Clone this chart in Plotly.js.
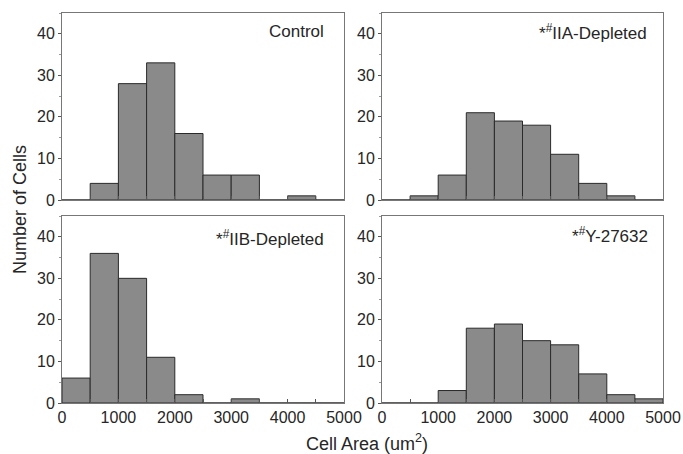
<!DOCTYPE html>
<html>
<head>
<meta charset="utf-8">
<script src="https://cdn.plot.ly/plotly-3.0.1.min.js"></script>
<style>html,body{margin:0;padding:0;background:#fff;}#chart{width:683px;height:454px;}</style>
</head>
<body>
<div id="chart"></div>
<script>
// Bin centres (cell area, um^2), bin width 500
const binCenters = [250, 750, 1250, 1750, 2250, 2750, 3250, 3750, 4250, 4750];
const binWidth = 500;

const controlCounts = [0, 4, 28, 33, 16, 6, 6, 0, 1, 0];
const iiaCounts     = [0, 1, 6, 21, 19, 18, 11, 4, 1, 0];
const iibCounts     = [6, 36, 30, 11, 2, 0, 1, 0, 0, 0];
const y27632Counts  = [0, 0, 3, 18, 19, 15, 14, 7, 2, 1];

const panelLabels = ["Control", "*<sup>#</sup>IIA-Depleted", "*<sup>#</sup>IIB-Depleted", "*<sup>#</sup>Y-27632"];
const xTickVals = [0, 1000, 2000, 3000, 4000, 5000];
const yTickVals = [0, 10, 20, 30, 40];

const series = [controlCounts, iiaCounts, iibCounts, y27632Counts];
const axisIds = [["x", "y"], ["x2", "y2"], ["x3", "y3"], ["x4", "y4"]];

const traces = series.map((vals, i) => ({
  type: "bar",
  x: binCenters,
  y: vals,
  width: binWidth,
  xaxis: axisIds[i][0],
  yaxis: axisIds[i][1],
  marker: {color: "#8a8a8a", line: {color: "#2a2a2a", width: 1}},
  showlegend: false,
  hoverinfo: "x+y"
}));

const font = {family: "Liberation Sans, Arial, sans-serif", size: 16, color: "#262626"};

function xax(domain, anchor, showLabels) {
  return {
    domain: domain, anchor: anchor, range: [0, 5000],
    tickvals: xTickVals, showticklabels: showLabels,
    ticks: "inside", ticklen: 4, tickcolor: "#555", tickwidth: 1,
    minor: {dtick: 500, ticks: "inside", ticklen: 4, tickcolor: "#555", tickwidth: 1},
    showline: true, mirror: true, linecolor: "#777", linewidth: 1,
    showgrid: false, zeroline: false, tickfont: font, fixedrange: true
  };
}
function yax(domain, anchor) {
  return {
    domain: domain, anchor: anchor, range: [0, 45],
    tickvals: yTickVals,
    ticks: "outside", ticklen: 3, tickcolor: "#555", tickwidth: 1,
    minor: {dtick: 5, ticks: "outside", ticklen: 2, tickcolor: "#999", tickwidth: 1},
    showline: true, mirror: true, linecolor: "#777", linewidth: 1,
    showgrid: false, zeroline: false, tickfont: font, fixedrange: true
  };
}

const xL = [62/683, 344/683], xR = [382/683, 663/683];
const yT = [254/454, 441/454], yB = [51/454, 238/454];

const annFont = {family: font.family, size: 17, color: "#262626"};
const titleFont = {family: font.family, size: 18, color: "#262626"};
const annotations = [
  {xref: "x domain", yref: "y domain", x: 0.935, y: 0.9, text: panelLabels[0]},
  {xref: "x2 domain", yref: "y2 domain", x: 0.95, y: 0.9, text: panelLabels[1]},
  {xref: "x3 domain", yref: "y3 domain", x: 0.935, y: 0.882, text: panelLabels[2]},
  {xref: "x4 domain", yref: "y4 domain", x: 0.955, y: 0.9, text: panelLabels[3]}
].map(a => Object.assign({showarrow: false, xanchor: "right", yanchor: "middle", font: annFont}, a));

annotations.push({
  xref: "paper", yref: "paper", x: 20/683, y: 1 - 210/454,
  text: "Number of Cells", textangle: -90, showarrow: false,
  xanchor: "center", yanchor: "middle", font: titleFont
});
annotations.push({
  xref: "paper", yref: "paper", x: 367/683, y: 1 - 442/454,
  text: "Cell Area (um<sup>2</sup>)", showarrow: false,
  xanchor: "center", yanchor: "middle", font: titleFont
});

const layout = {
  width: 683, height: 454,
  margin: {l: 0, r: 0, t: 0, b: 0},
  paper_bgcolor: "#fff", plot_bgcolor: "#fff",
  bargap: 0, font: font,
  xaxis: xax(xL, "y", false), yaxis: yax(yT, "x"),
  xaxis2: xax(xR, "y2", false), yaxis2: yax(yT, "x2"),
  xaxis3: xax(xL, "y3", true), yaxis3: yax(yB, "x3"),
  xaxis4: xax(xR, "y4", true), yaxis4: yax(yB, "x4"),
  annotations: annotations
};

Plotly.newPlot("chart", traces, layout, {displayModeBar: false, staticPlot: true});
</script>
</body>
</html>
